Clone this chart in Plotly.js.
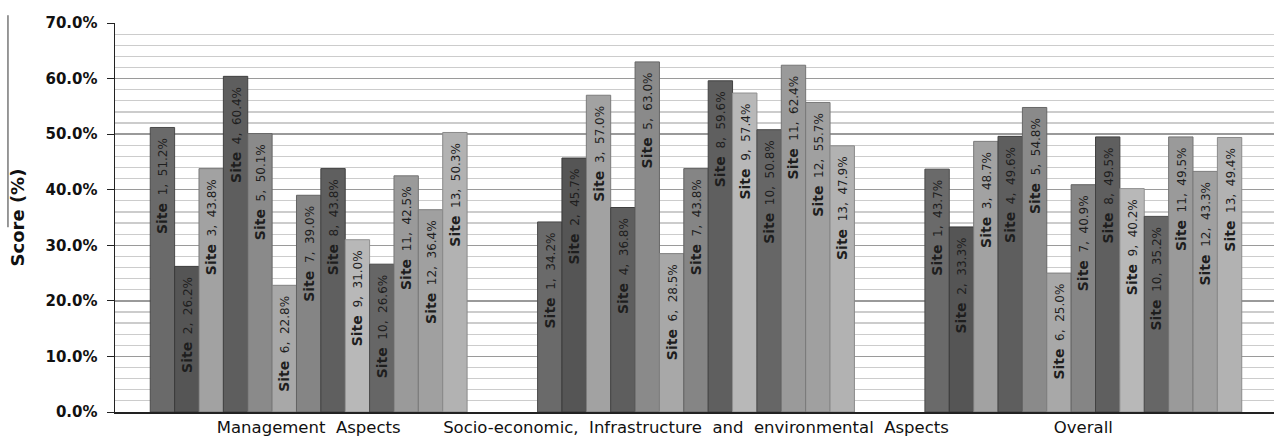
<!DOCTYPE html>
<html>
<head>
<meta charset="utf-8">
<script src="https://cdn.plot.ly/plotly-3.0.1.min.js"></script>
<style>
html,body{margin:0;padding:0;overflow:hidden;background:#fff;}
#chart{width:1277px;height:437px;}
</style>
</head>
<body>
<div id="chart"></div>
<script>
var categories = ["Management&nbsp; Aspects", "Socio-economic,&nbsp; Infrastructure&nbsp; and&nbsp; environmental&nbsp; Aspects", "Overall"];
var siteNames = ["Site 1","Site 2","Site 3","Site 4","Site 5","Site 6","Site 7","Site 8","Site 9","Site 10","Site 11","Site 12","Site 13"];
var management = [51.2, 26.2, 43.8, 60.4, 50.1, 22.8, 39.0, 43.8, 31.0, 26.6, 42.5, 36.4, 50.3];
var socioEconomic = [34.2, 45.7, 57.0, 36.8, 63.0, 28.5, 43.8, 59.6, 57.4, 50.8, 62.4, 55.7, 47.9];
var overall = [43.7, 33.3, 48.7, 49.6, 54.8, 25.0, 40.9, 49.5, 40.2, 35.2, 49.5, 43.3, 49.4];
var siteColors = ["#6a6a6a","#555555","#a2a2a2","#5e5e5e","#8a8a8a","#a8a8a8","#858585","#5f5f5f","#b8b8b8","#666666","#9a9a9a","#a0a0a0","#b2b2b2"];
var siteEdges = ["#4a4a4a","#3a3a3a","#7a7a7a","#404040","#666666","#808080","#626262","#424242","#909090","#484848","#757575","#7a7a7a","#8a8a8a"];
var yTicks = [0,10,20,30,40,50,60,70];

var traces = siteNames.map(function(name, i){
  var vals = [management[i], socioEconomic[i], overall[i]];
  var num = name.split(" ")[1];
  return {
    type: "bar",
    name: name,
    x: categories,
    y: vals,
    text: vals.map(function(v){
      return "<b>Site</b><span style=\"font-size:12px\">&nbsp; " + num + ",&nbsp; " + v.toFixed(1) + "%&nbsp;&nbsp;</span>";
    }),
    textposition: "inside",
    insidetextanchor: "end",
    textangle: -90,
    constraintext: "none",
    textfont: {family: "DejaVu Sans", size: 14, color: "#1e1e1e"},
    marker: {color: siteColors[i], line: {color: siteEdges[i], width: 1}},
    hoverinfo: "none"
  };
});

var layout = {
  width: 1277,
  height: 437,
  margin: {l: 115, r: 0, t: 23, b: 25},
  paper_bgcolor: "#ffffff",
  plot_bgcolor: "#ffffff",
  barmode: "group",
  bargap: 0.182,
  bargroupgap: 0,
  showlegend: false,
  xaxis: {
    showline: true,
    linecolor: "#222222",
    linewidth: 1.5,
    ticks: "",
    tickfont: {family: "DejaVu Sans", size: 16.5, color: "#111111"},
    showgrid: false,
    zeroline: false
  },
  yaxis: {
    range: [0, 70],
    tickvals: yTicks,
    ticktext: yTicks.map(function(t){ return t.toFixed(1) + "%"; }),
    tickfont: {family: "DejaVu Sans", size: 15, color: "#111111", weight: "bold"},
    ticks: "outside",
    ticklen: 7,
    tickcolor: "#222222",
    ticklabelstandoff: 6,
    showline: true,
    linecolor: "#222222",
    linewidth: 1.5,
    showgrid: true,
    gridcolor: "#9a9a9a",
    gridwidth: 1.5,
    zeroline: false,
    minor: {dtick: 2, showgrid: true, gridcolor: "#cccccc", gridwidth: 1.2, ticks: ""}
  },
  annotations: [{
    text: "<b>Score (%)</b>",
    xref: "paper", yref: "paper",
    x: -0.0835, y: 0.5,
    xanchor: "center", yanchor: "middle",
    textangle: -90,
    showarrow: false,
    font: {family: "DejaVu Sans", size: 18, color: "#111111"}
  }],
  shapes: [{
    type: "line", xref: "paper", yref: "paper",
    x0: -0.0921, x1: -0.0921, y0: 1.02, y1: 0.475,
    line: {color: "#333333", width: 1}
  }]
};

Plotly.newPlot("chart", traces, layout, {staticPlot: true, displayModeBar: false});
</script>
</body>
</html>
